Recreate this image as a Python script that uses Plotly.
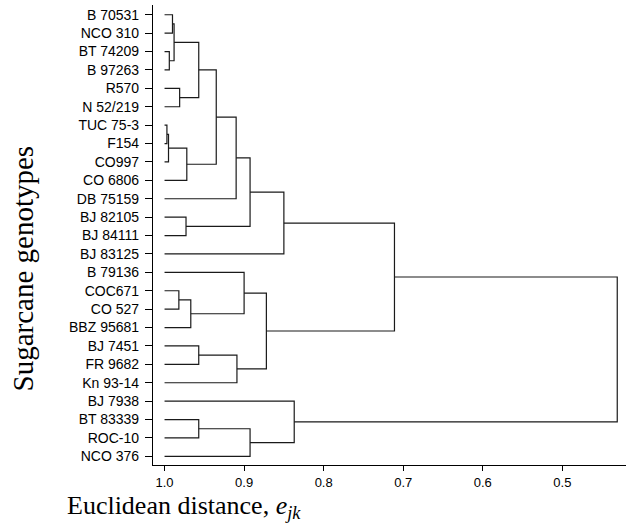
import plotly.graph_objects as go

# ---- data ----
leaf_labels = ["B 70531", "NCO 310", "BT 74209", "B 97263", "R570", "N 52/219",
               "TUC 75-3", "F154", "CO997", "CO 6806", "DB 75159", "BJ 82105",
               "BJ 84111", "BJ 83125", "B 79136", "COC671", "CO 527", "BBZ 95681",
               "BJ 7451", "FR 9682", "Kn 93-14", "BJ 7938", "BT 83339", "ROC-10",
               "NCO 376"]
leaf_level = 1.0

# merges: node ids 0..24 are leaves; each merge creates node 25, 26, ...
merge_left = [0, 2, 25, 4, 27, 6, 30, 31, 29, 33, 11, 34, 36, 15, 38, 14, 18, 41, 40, 37, 22, 45, 21, 44]
merge_right = [1, 3, 26, 5, 28, 7, 8, 9, 32, 10, 12, 35, 13, 16, 17, 39, 19, 20, 42, 43, 23, 24, 46, 47]
merge_dist = [0.990, 0.994, 0.988, 0.981, 0.957, 0.997, 0.995, 0.972, 0.935, 0.910,
              0.973, 0.8925, 0.850, 0.982, 0.967, 0.900, 0.957, 0.909, 0.872, 0.711,
              0.957, 0.8925, 0.837, 0.431]

x_tick_vals = [1.0, 0.9, 0.8, 0.7, 0.6, 0.5]
x_tick_text = ["1.0", "0.9", "0.8", "0.7", "0.6", "0.5"]

# ---- build dendrogram segments ----
n = len(leaf_labels)
pos = {i: float(i) for i in range(n)}
hgt = {i: leaf_level for i in range(n)}
xs, ys = [], []
for k, (a, b, d) in enumerate(zip(merge_left, merge_right, merge_dist)):
    node = n + k
    xs += [hgt[a], d, d, hgt[b], None]
    ys += [pos[a], pos[a], pos[b], pos[b], None]
    pos[node] = (pos[a] + pos[b]) / 2
    hgt[node] = d

fig = go.Figure()
fig.add_trace(go.Scatter(x=xs, y=ys, mode="lines",
                         line=dict(color="#1a1a1a", width=1.2),
                         hoverinfo="skip", showlegend=False))

W, H = 627, 523
L, R, T, B = 153, 1, 5, 58
pw, ph = W - L - R, H - T - B

fig.update_layout(
    width=W, height=H,
    margin=dict(l=L, r=R, t=T, b=B),
    paper_bgcolor="white", plot_bgcolor="white",
    showlegend=False,
    xaxis=dict(range=[1.0145, 0.42], tickvals=x_tick_vals, ticktext=x_tick_text,
               showline=True, linecolor="black", linewidth=1.2,
               ticks="outside", ticklen=5, tickwidth=1.2, tickcolor="black",
               showgrid=False, zeroline=False, automargin=False,
               tickfont=dict(family="Liberation Sans, Arial", size=13, color="black")),
    yaxis=dict(range=[24.47, -0.53], tickvals=list(range(n)), ticktext=leaf_labels,
               showline=True, linecolor="black", linewidth=1.2,
               ticks="outside", ticklen=7, tickwidth=1.2, tickcolor="black",
               showgrid=False, zeroline=False, ticklabelstandoff=3, automargin=False,
               tickfont=dict(family="Liberation Sans, Arial", size=14, color="black")),
    annotations=[
        dict(text="Sugarcane genotypes", xref="paper", yref="paper",
             x=(22 - L) / pw, y=(H - B - 268.5) / ph, xanchor="center", yanchor="middle",
             textangle=-90, showarrow=False,
             font=dict(family="Liberation Serif, Times New Roman", size=29, color="black")),
        dict(text="Euclidean distance, <i>e</i><sub><i>jk</i></sub>", xref="paper", yref="paper",
             x=(65 - L) / pw, y=(H - B - 507) / ph, xanchor="left", yanchor="middle",
             showarrow=False,
             font=dict(family="Liberation Serif, Times New Roman", size=26, color="black")),
    ],
)

fig.write_html("out.html", config={"displayModeBar": False},
               post_script="document.body.style.margin='0';")
